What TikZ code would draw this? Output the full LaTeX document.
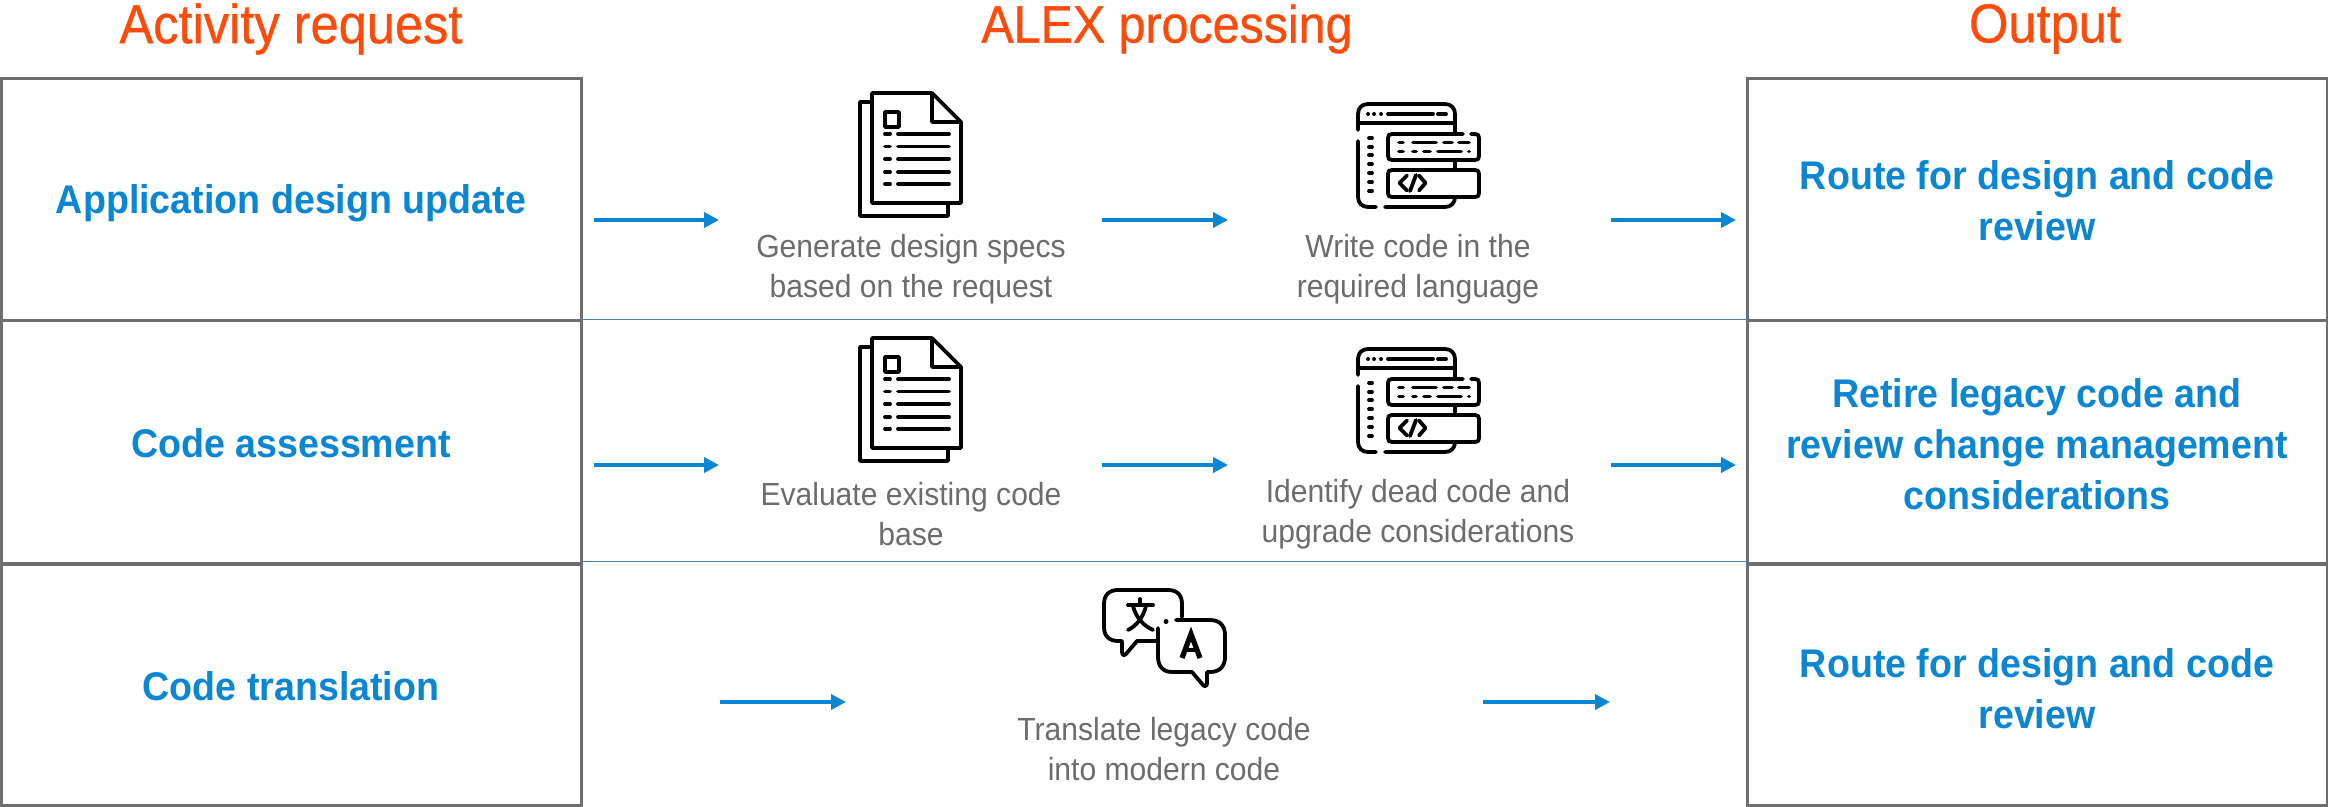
\documentclass[tikz,border=0pt]{standalone}
\usepackage{fontspec}
\setmainfont{Liberation Sans}
\newfontfamily\headfont[FakeStretch=0.92,FakeBold=0.6]{Liberation Sans}
\newfontfamily\bodyfont[FakeStretch=0.94]{Liberation Sans}
\newfontfamily\bluefont[FakeStretch=0.94]{Liberation Sans Bold}
\usetikzlibrary{arrows.meta}
\definecolor{blueT}{HTML}{0A86D3}
\definecolor{orangeT}{HTML}{FF4B0A}
\definecolor{grayT}{HTML}{6C6C6C}
\definecolor{boxG}{HTML}{6E6E6E}
\definecolor{sepB}{HTML}{4A7FB5}
\tikzset{
  x=0.5pt,y=-0.5pt,
  cellbox/.style={draw=boxG,line width=1.5pt,rectangle,minimum width=290pt,minimum height=121pt,inner sep=0pt,outer sep=0pt,anchor=north west},
  headlbl/.style={text=orangeT,font=\headfont\fontsize{27.5}{30}\selectfont,inner sep=0pt,anchor=center},
  bluelbl/.style={text=blueT,font=\bluefont\fontsize{20}{25.5}\selectfont,align=center,inner sep=0pt,anchor=center},
  graylbl/.style={text=grayT,font=\bodyfont\fontsize{16}{20}\selectfont,align=center,inner sep=0pt,anchor=center},
  flow/.style={draw=blueT,line width=2pt,-{Triangle[length=7.5pt,width=7.5pt]}},
  rowsep/.style={draw=sepB,line width=0.6pt},
  icn/.style={line width=1.9pt,line cap=round,line join=round,draw=black},
  pics/docicon/.style={code={
    \draw[icn] (932,93) -- (875,93) -- (872,93) -- (872,203) -- (961,203) -- (961,122) -- (932,93) -- (932,122) -- (961,122);
    \draw[icn] (872,102) -- (860,102) -- (860,216) -- (948,216) -- (948,203);
    \draw[icn] (885,112) rectangle (899,127);
    \foreach \ly in {134,146.5,159,172,184}{
      \draw[icn] (885,\ly) -- (890,\ly);
      \draw[icn] (898,\ly) -- (949,\ly);
    }
  }},
  pics/codeicon/.style={code={
    \draw[icn] (1358,130) -- (1358,114) .. controls (1358,108) and (1362,104) .. (1368,104) -- (1445,104) .. controls (1451,104) and (1455,108) .. (1455,114) -- (1455,134);
    \draw[icn] (1358,123) -- (1455,123);
    \draw[icn] (1358,141) -- (1358,197) .. controls (1358,203) and (1362,207) .. (1368,207) -- (1376,207);
    \draw[icn] (1385,207) -- (1445,207) .. controls (1451,207) and (1455,203) .. (1455,197);
    \draw[icn] (1455,160) -- (1455,170);
    \draw[icn] (1463,134) -- (1392,134) .. controls (1389,134) and (1388,135) .. (1388,138) -- (1388,156) .. controls (1388,159) and (1389,160) .. (1392,160) -- (1475,160) .. controls (1478,160) and (1479,159) .. (1479,156) -- (1479,138) .. controls (1479,135) and (1478,134) .. (1475,134) -- (1471,134);
    \draw[icn] (1392,170) -- (1475,170) .. controls (1478,170) and (1479,171) .. (1479,174) -- (1479,193) .. controls (1479,196) and (1478,197) .. (1475,197) -- (1392,197) .. controls (1389,197) and (1388,196) .. (1388,193) -- (1388,174) .. controls (1388,171) and (1389,170) .. (1392,170);
    \foreach \dx in {1368,1374,1381}{\draw[icn] (\dx,114) -- (\dx+0.1,114);}
    \draw[icn] (1388,114) -- (1433,114);
    \draw[icn] (1438,114) -- (1446,114);
    \foreach \ly in {138,147,155,164,173,182,191}{\draw[icn] (1369,\ly) -- (1372,\ly);}
    \draw[icn] (1399,142.5) -- (1403,142.5);
    \draw[icn] (1413,142.5) -- (1436,142.5);
    \draw[icn] (1444,142.5) -- (1452,142.5);
    \draw[icn] (1459,142.5) -- (1469,142.5);
    \draw[icn] (1399,151.5) -- (1403,151.5);
    \draw[icn] (1413,151.5) -- (1416,151.5);
    \draw[icn] (1424,151.5) -- (1430,151.5);
    \draw[icn] (1438,151.5) -- (1461,151.5);
    \draw[icn] (1469,151.5) -- (1469.1,151.5);
    \draw[icn] (1407,175.5) -- (1399.5,183) -- (1407,190.5);
    \draw[icn] (1416,175) -- (1410,191);
    \draw[icn] (1419,175.5) -- (1425.5,183) -- (1419,190.5);
  }},
  pics/transicon/.style={code={
    \draw[icn] (1182,617) -- (1182,604) .. controls (1182,595) and (1177,590) .. (1168,590) -- (1118,590) .. controls (1109,590) and (1104,595) .. (1104,604) -- (1104,627) .. controls (1104,636) and (1109,641) .. (1118,641) -- (1122,641) -- (1122,652) .. controls (1122,655) and (1124,656) .. (1126,654) -- (1137,641) -- (1158,641);
    \draw[icn] (1176,620) -- (1210,620) .. controls (1220,620) and (1225,626) .. (1225,635) -- (1225,657) .. controls (1225,666) and (1220,672) .. (1210,672) -- (1207,672) -- (1207,683) .. controls (1207,686) and (1205,687) .. (1203,685) -- (1192,672) -- (1172,672) .. controls (1163,672) and (1158,666) .. (1158,657) -- (1158,628);
    \draw[icn,line width=2.4pt] (1166,621.5) -- (1166.1,621.5);
    \draw[icn] (1140,599) -- (1140,605);
    \draw[icn] (1128,605) -- (1153,605);
    \draw[icn] (1146,606) .. controls (1143,618) and (1136,626) .. (1128,630);
    \draw[icn] (1133,606) .. controls (1136,618) and (1144,626) .. (1153,630);
    \draw[icn,line width=2.6pt,line join=miter,line cap=butt] (1182,658) -- (1191,634) -- (1200,658);
    \draw[icn,line width=2pt,line cap=butt] (1186,650) -- (1196,650);
  }}
}
\begin{document}
\begin{tikzpicture}
\useasboundingbox (0,0) rectangle (2328,807);
% boxes
\node[cellbox] (a1) at (1.5,79) {};
\node[cellbox] (a2) at (1.5,321) {};
\node[cellbox,minimum height=120.5pt] (a3) at (1.5,564.5) {};
\node[cellbox] (o1) at (1747,79) {};
\node[cellbox] (o2) at (1747,321) {};
\node[cellbox,minimum height=120.5pt] (o3) at (1747,564.5) {};
% row separators
\draw[rowsep] ([yshift=0.8pt]a1.south east) -- ([yshift=0.8pt]o1.south west);
\draw[rowsep] ([yshift=0.6pt]a2.south east) -- ([yshift=0.6pt]o2.south west);
% headings
\node[headlbl] (h1) at (291,29) {Activity request};
\node[headlbl,font=\headfont\fontsize{26.3}{30}\selectfont] (h2) at (1167,29) {ALEX processing};
\node[headlbl] (h3) at (2045,29) {Output};
% left labels
\node[bluelbl] (t1) at (291,203) {Application design update};
\node[bluelbl] (t2) at (291,443) {Code assessment};
\node[bluelbl] (t3) at (291,686) {Code translation};
% right labels
\node[bluelbl] (r1) at (2037,201) {Route for design and code\\review};
\node[bluelbl] (r2) at (2037,444) {Retire legacy code and\\review change management\\considerations};
\node[bluelbl] (r3) at (2037,689) {Route for design and code\\review};
% gray labels
\node[graylbl] (g1) at (911,269) {Generate design specs\\based on the request};
\node[graylbl] (g2) at (1418,269) {Write code in the\\required language};
\node[graylbl] (g3) at (911,514.5) {Evaluate existing code\\base};
\node[graylbl] (g4) at (1418,514.5) {Identify dead code and\\upgrade considerations};
\node[graylbl] (g5) at (1164,749) {Translate legacy code\\into modern code};
% icons
\pic at (0,0) {docicon};
\pic at (0,245) {docicon};
\pic at (0,0) {codeicon};
\pic at (0,245) {codeicon};
\pic at (0,0) {transicon};
% arrows
\coordinate (s1) at (594,220);   \coordinate (e1) at (719,220);
\coordinate (s2) at (1102,220);  \coordinate (e2) at (1228,220);
\coordinate (s3) at (1611,220);  \coordinate (e3) at (1736,220);
\coordinate (s4) at (594,465);   \coordinate (e4) at (719,465);
\coordinate (s5) at (1102,465);  \coordinate (e5) at (1228,465);
\coordinate (s6) at (1611,465);  \coordinate (e6) at (1736,465);
\coordinate (s7) at (720,702);   \coordinate (e7) at (846,702);
\coordinate (s8) at (1483,702);  \coordinate (e8) at (1610,702);
\foreach \k in {1,...,8}{\draw[flow] (s\k) -- (e\k);}
\end{tikzpicture}
\end{document}
